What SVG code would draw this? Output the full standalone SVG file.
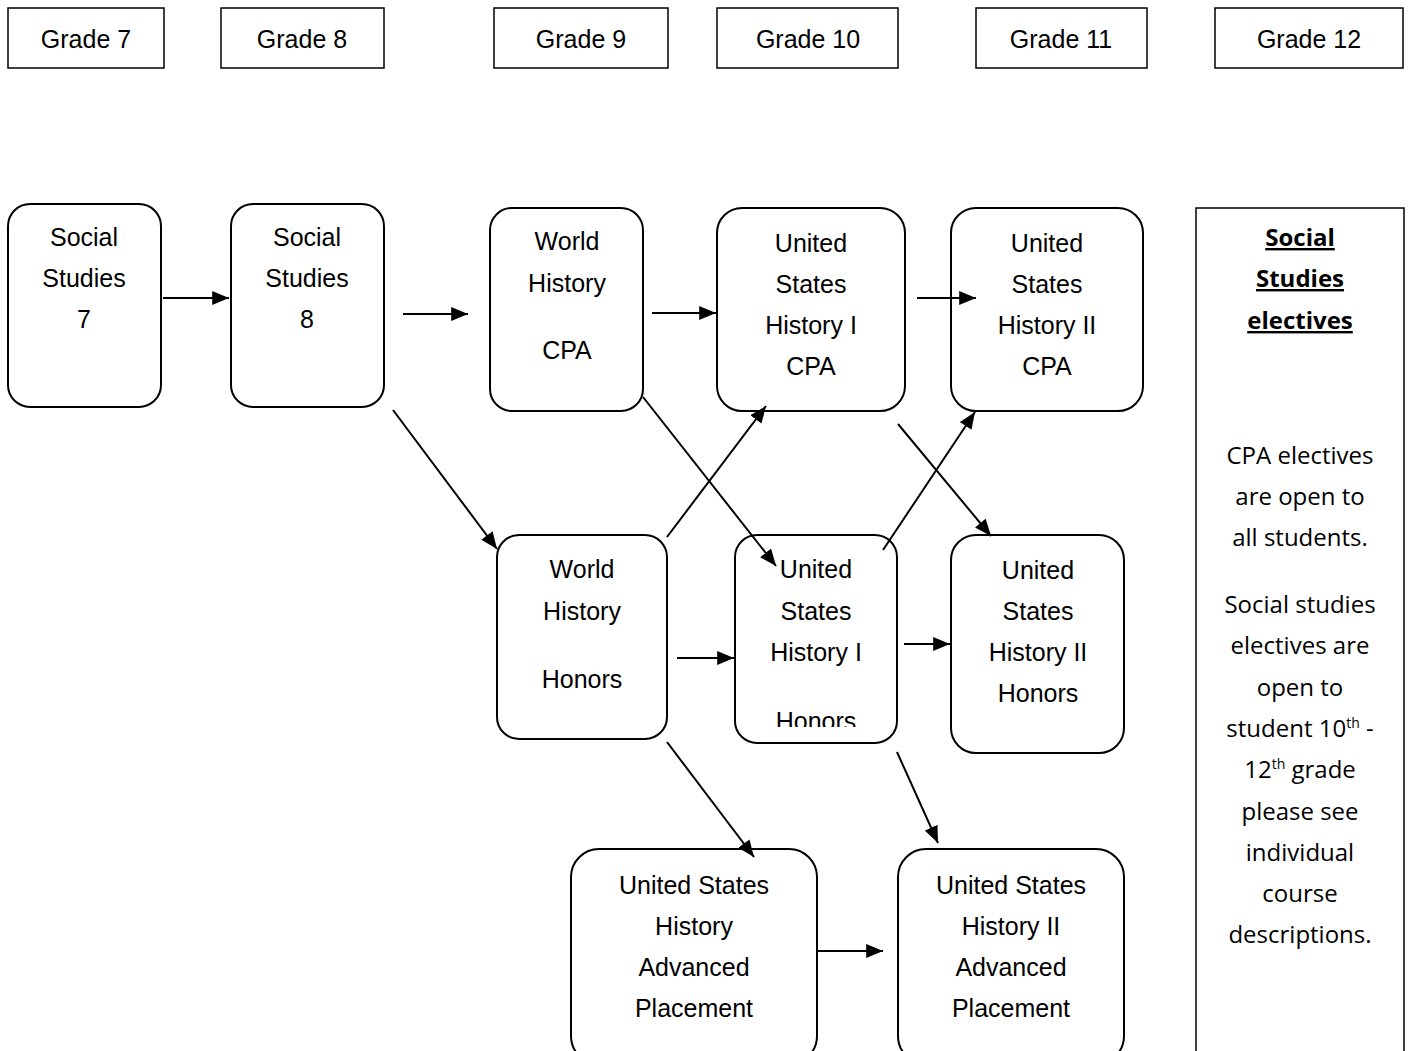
<svg xmlns="http://www.w3.org/2000/svg" width="1408" height="1051" viewBox="0 0 1408 1051">
<style>
.g{fill:#fff;stroke:#000;stroke-width:1.5}
.n{fill:#fff;stroke:#000;stroke-width:2}
.t{font-family:"Liberation Sans",Arial,sans-serif;font-size:25px;fill:#000;text-anchor:middle}
.e{font-family:"Open Sans","DejaVu Sans",sans-serif;font-size:24px;fill:#000;text-anchor:middle}
.b{font-weight:bold;text-decoration:underline}
.c line{stroke:#000;stroke-width:2;marker-end:url(#ah)}
</style>
<defs>
<marker id="ah" viewBox="0 0 12 10" refX="12" refY="5" markerWidth="17" markerHeight="14" markerUnits="userSpaceOnUse" orient="auto">
<path d="M0,0 L12,5 L0,10 z" fill="#000"/>
</marker>
<clipPath id="clipH"><rect x="735" y="535" width="162" height="192"/></clipPath>
</defs>
<rect width="1408" height="1051" fill="#fff"/>

<g id="grade7"><rect class="g" x="8" y="8" width="156" height="60"/><text class="t" x="86" y="48">Grade 7</text></g>
<g id="grade8"><rect class="g" x="221" y="8" width="163" height="60"/><text class="t" x="302" y="48">Grade 8</text></g>
<g id="grade9"><rect class="g" x="494" y="8" width="174" height="60"/><text class="t" x="581" y="48">Grade 9</text></g>
<g id="grade10"><rect class="g" x="717" y="8" width="181" height="60"/><text class="t" x="808" y="48">Grade 10</text></g>
<g id="grade11"><rect class="g" x="976" y="8" width="171" height="60"/><text class="t" x="1061" y="48">Grade 11</text></g>
<g id="grade12"><rect class="g" x="1215" y="8" width="188" height="60"/><text class="t" x="1309" y="48">Grade 12</text></g>

<g id="ss7"><rect class="n" x="8" y="204" width="153" height="203" rx="22"/>
<text class="t" x="84" y="246">Social</text><text class="t" x="84" y="287">Studies</text><text class="t" x="84" y="328">7</text></g>
<g id="ss8"><rect class="n" x="231" y="204" width="153" height="203" rx="22"/>
<text class="t" x="307" y="246">Social</text><text class="t" x="307" y="287">Studies</text><text class="t" x="307" y="328">8</text></g>
<g id="whcpa"><rect class="n" x="490" y="208" width="153" height="203" rx="22"/>
<text class="t" x="567" y="250">World</text><text class="t" x="567" y="292">History</text><text class="t" x="567" y="359">CPA</text></g>
<g id="ush1cpa"><rect class="n" x="717" y="208" width="188" height="203" rx="25"/>
<text class="t" x="811" y="252">United</text><text class="t" x="811" y="293">States</text><text class="t" x="811" y="334">History I</text><text class="t" x="811" y="375">CPA</text></g>
<g id="ush2cpa"><rect class="n" x="951" y="208" width="192" height="203" rx="25"/>
<text class="t" x="1047" y="252">United</text><text class="t" x="1047" y="293">States</text><text class="t" x="1047" y="334">History II</text><text class="t" x="1047" y="375">CPA</text></g>
<g id="whhon"><rect class="n" x="497" y="535" width="170" height="204" rx="22"/>
<text class="t" x="582" y="578">World</text><text class="t" x="582" y="620">History</text><text class="t" x="582" y="688">Honors</text></g>
<g id="ush1hon"><rect class="n" x="735" y="535" width="162" height="208" rx="22"/>
<text class="t" x="816" y="578">United</text><text class="t" x="816" y="620">States</text><text class="t" x="816" y="661">History I</text><text class="t" x="816" y="730" clip-path="url(#clipH)">Honors</text></g>
<g id="ush2hon"><rect class="n" x="951" y="535" width="173" height="218" rx="25"/>
<text class="t" x="1038" y="579">United</text><text class="t" x="1038" y="620">States</text><text class="t" x="1038" y="661">History II</text><text class="t" x="1038" y="702">Honors</text></g>
<g id="ushap"><rect class="n" x="571" y="849" width="246" height="215" rx="28"/>
<text class="t" x="694" y="894">United States</text><text class="t" x="694" y="935">History</text><text class="t" x="694" y="976">Advanced</text><text class="t" x="694" y="1017">Placement</text></g>
<g id="ush2ap"><rect class="n" x="898" y="849" width="226" height="215" rx="28"/>
<text class="t" x="1011" y="894">United States</text><text class="t" x="1011" y="935">History II</text><text class="t" x="1011" y="976">Advanced</text><text class="t" x="1011" y="1017">Placement</text></g>

<g id="electives"><rect class="g" x="1196" y="208" width="208" height="860" stroke-width="2"/>
<text class="e b" x="1300" y="246">Social</text><text class="e b" x="1300" y="287">Studies</text><text class="e b" x="1300" y="329">electives</text>
<text class="e" x="1300" y="464">CPA electives</text><text class="e" x="1300" y="505">are open to</text><text class="e" x="1300" y="546">all students.</text>
<text class="e" x="1300" y="613">Social studies</text><text class="e" x="1300" y="654">electives are</text><text class="e" x="1300" y="696">open to</text>
<text class="e" x="1300" y="737">student 10<tspan font-size="14" dy="-9">th</tspan><tspan dy="9"> -</tspan></text>
<text class="e" x="1300" y="778">12<tspan font-size="14" dy="-9">th</tspan><tspan dy="9"> grade</tspan></text>
<text class="e" x="1300" y="820">please see</text><text class="e" x="1300" y="861">individual</text><text class="e" x="1300" y="902">course</text><text class="e" x="1300" y="943">descriptions.</text></g>

<g id="connectors" class="c">
<line x1="163" y1="298" x2="229" y2="298"/>
<line x1="403" y1="314" x2="468" y2="314"/>
<line x1="393" y1="410" x2="497" y2="549"/>
<line x1="652" y1="313" x2="716" y2="313"/>
<line x1="643" y1="397" x2="776" y2="566"/>
<line x1="667" y1="537" x2="766" y2="406"/>
<line x1="917" y1="298" x2="976" y2="298"/>
<line x1="898" y1="424" x2="991" y2="536"/>
<line x1="883" y1="550" x2="975" y2="412"/>
<line x1="677" y1="658" x2="734" y2="658"/>
<line x1="904" y1="644" x2="950" y2="644"/>
<line x1="667" y1="742" x2="754" y2="857"/>
<line x1="897" y1="752" x2="938" y2="843"/>
<line x1="817" y1="951" x2="883" y2="951"/>
</g>
</svg>
